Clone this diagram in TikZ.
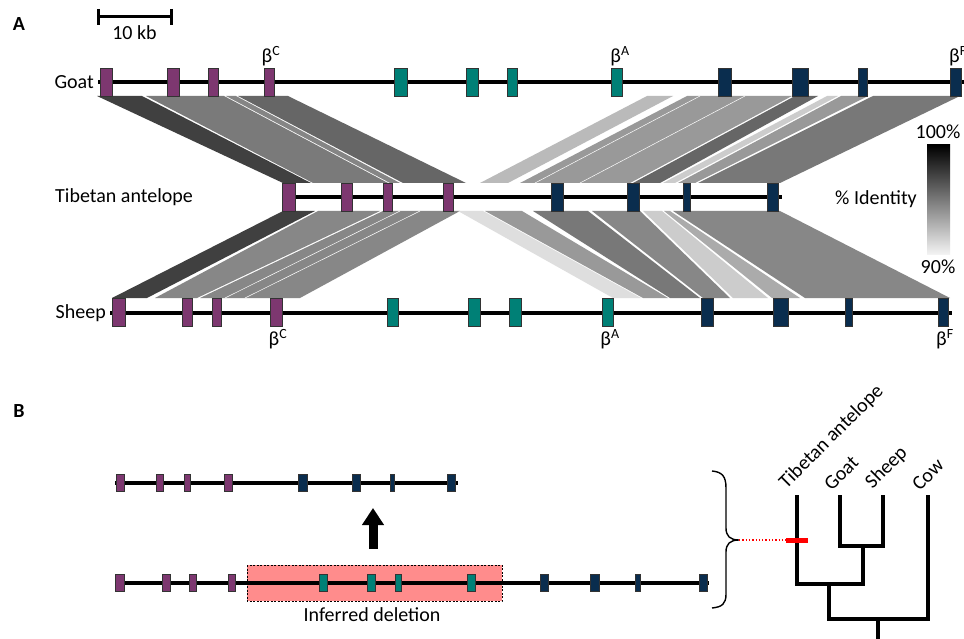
\documentclass[tikz,border=0pt]{standalone}
\usepackage{fontspec}
\setmainfont{Carlito}
\usetikzlibrary{arrows.meta}
\definecolor{gpurple}{RGB}{125,55,112}
\definecolor{gteal}{RGB}{0,128,118}
\definecolor{gnavy}{RGB}{10,45,78}
\definecolor{delred}{RGB}{255,140,140}
\tikzset{
  chrom/.style={line width=3.5pt},
  genebox/.style={draw=black!80, line width=0.6pt},
  lbl/.style={font=\fontsize{20}{24}\selectfont, inner sep=0pt},
  panel/.style={font=\fontsize{20}{24}\selectfont\bfseries, inner sep=0pt},
  treeline/.style={line width=3.5pt, line cap=rect, line join=miter},
}
\newcommand\gn[5]{\filldraw[genebox, fill=#5] ({#1-#3/2},{#2-#4/2}) rectangle ({#1+#3/2},{#2+#4/2});}
\newcommand\bnd[7]{\fill[black!#7] (#3,#1) -- (#4,#1) -- (#6,#2) -- (#5,#2) -- cycle;}
\begin{document}
\begin{tikzpicture}[x=1pt,y=-1pt]
\useasboundingbox (0,0) rectangle (964,639);
\clip (0,0) rectangle (964,639);
\fill[white] (0,0) rectangle (964,639);

% panel labels
\node[panel] (pA) at (19,24) {A};
\node[panel] (pB) at (19,411) {B};

% scale bar
\coordinate (sb1) at (98,17);
\coordinate (sb2) at (171,17);
\draw[line width=3pt] (sb1) -- (sb2);
\draw[line width=3pt] (98,9) -- (98,25);
\draw[line width=3pt] (171,9) -- (171,25);
\node[lbl] (sbl) at (134.5,33) {10 kb};

% ---------- bands goat -> antelope ----------
\bnd{96}{183}{97}{142}{283}{311}{75}
\bnd{96}{183}{146}{224}{313}{388}{52}
\bnd{96}{183}{226}{236}{390}{400}{48}
\bnd{96}{183}{238}{288}{403}{466}{60}
\bnd{96}{183}{647}{673}{480}{508}{27}
\bnd{96}{183}{687}{792}{520}{630}{40}
\bnd{96}{183}{795}{818}{633}{660}{60}
\bnd{96}{183}{827}{838}{663}{675}{20}
\bnd{96}{183}{841}{868}{678}{695}{40}
\bnd{96}{183}{873}{960}{698}{780}{53}
\draw[white, line width=0.5pt] (700,96) -- (535,183);
\draw[white, line width=0.5pt] (745,96) -- (580,183);
% ---------- bands antelope -> sheep ----------
\bnd{211}{298}{283}{315}{112}{147}{75}
\bnd{211}{298}{318}{380}{155}{197}{47}
\bnd{211}{298}{383}{460}{200}{300}{47}
\bnd{211}{298}{458}{483}{613}{641}{13}
\bnd{211}{298}{485}{522}{643}{668}{40}
\bnd{211}{298}{533}{588}{670}{700}{53}
\bnd{211}{298}{592}{640}{703}{730}{47}
\bnd{211}{298}{643}{662}{733}{768}{20}
\bnd{211}{298}{664}{670}{772}{800}{33}
\bnd{211}{298}{673}{780}{805}{950}{47}
\draw[white, line width=0.5pt] (400,211) -- (225,298);
\draw[white, line width=0.5pt] (420,211) -- (245,298);

% ---------- chromosomes ----------
\coordinate (g0) at (98,82);  \coordinate (g1) at (964,82);
\coordinate (t0) at (282,197); \coordinate (t1) at (782,197);
\coordinate (s0) at (110,313); \coordinate (s1) at (952,313);
\draw[chrom] (g0) -- (g1);
\draw[chrom] (t0) -- (t1);
\draw[chrom] (s0) -- (s1);

\foreach \x/\w in {106/12,173/12,213/10,269/10} \gn{\x}{82}{\w}{28}{gpurple};
\foreach \x/\w in {401/13,472/12,512/10,617/11} \gn{\x}{82}{\w}{28}{gteal};
\foreach \x/\w in {725/13,800/16,863/9,956/11} \gn{\x}{82}{\w}{28}{gnavy};

\foreach \x/\w in {289/13,347/11,388/9,448/10} \gn{\x}{197}{\w}{28}{gpurple};
\foreach \x/\w in {557/12,633/12,687/7,773/11} \gn{\x}{197}{\w}{28}{gnavy};

\foreach \x/\w in {119/13,187/10,217/9,276/12} \gn{\x}{312}{\w}{28}{gpurple};
\foreach \x/\w in {393/11,474/12,515/12,608/11} \gn{\x}{312}{\w}{28}{gteal};
\foreach \x/\w in {707/12,781/15,849/7,943/10} \gn{\x}{312}{\w}{28}{gnavy};

% labels
\node[lbl, anchor=east] (lg) at (94,82) {Goat};
\node[lbl, anchor=west] (lt) at (55,197) {Tibetan antelope};
\node[lbl, anchor=east] (ls) at (106,313) {Sheep};
\node[lbl] (bc1) at (271,56) {β\textsuperscript{C}};
\node[lbl] (ba1) at (620,56) {β\textsuperscript{A}};
\node[lbl] (bf1) at (958,56) {β\textsuperscript{F}};
\node[lbl] (bc2) at (278,339) {β\textsuperscript{C}};
\node[lbl] (ba2) at (610,339) {β\textsuperscript{A}};
\node[lbl] (bf2) at (945,339) {β\textsuperscript{F}};

% legend
\shade[top color=black, bottom color=black!4] (927,145) rectangle (950,255);
\node[lbl] (l100) at (938,132) {100\%};
\node[lbl] (l90) at (938,267) {90\%};
\node[lbl] (lid) at (876,199) {\% Identity};

% ---------- panel B ----------
\fill[delred] (247,565) rectangle (502,601);
\draw[dashed, dash pattern=on 2pt off 1.5pt, line width=0.9pt] (247,565) rectangle (502,601);
\node[lbl] (ldel) at (372,615) {Inferred deletion};

\coordinate (u0) at (115,483); \coordinate (u1) at (458,483);
\coordinate (v0) at (115,583); \coordinate (v1) at (709,583);
\draw[chrom] (u0) -- (u1);
\draw[chrom] (v0) -- (v1);
\foreach \x/\w in {120/8,160/7,187/6,228/8} \gn{\x}{483}{\w}{17}{gpurple};
\foreach \x/\w in {303/9,356/8,392/4,451/8} \gn{\x}{483}{\w}{17}{gnavy};
\foreach \x/\w in {120/9,166/8,193/7,232/7} \gn{\x}{583}{\w}{17}{gpurple};
\foreach \x/\w in {323/8,371/8,398/6,471/8} \gn{\x}{583}{\w}{17}{gteal};
\foreach \x/\w in {544/8,595/9,638/5,703/8} \gn{\x}{583}{\w}{17}{gnavy};

\coordinate (ar0) at (373,549);
\coordinate (ar1) at (373,508);
\draw[line width=9pt, -{Triangle[length=17pt,width=21pt]}] (ar0) -- (ar1);

% brace
\draw[line width=1.4pt] (712,471) .. controls (722,472) and (726,476) .. (726,488) -- (726,528) .. controls (726,536) and (730,540) .. (739,540) .. controls (730,540) and (726,544) .. (726,552) -- (726,594) .. controls (726,604) and (722,607) .. (712,608);
\coordinate (brt) at (739,540);
\coordinate (redl) at (786,540);
\draw[red, dotted, line width=1.3pt] (brt) -- (redl);

% tree
\coordinate (lt1) at (797,497);
\coordinate (lg1) at (840,497);
\coordinate (ls1) at (883,497);
\coordinate (lc1) at (928,497);
\draw[treeline] (lg1) -- (840,546) -- (883,546) -- (ls1);
\draw[treeline] (863,546) -- (863,584);
\draw[treeline] (lt1) -- (797,584) -- (863,584);
\draw[treeline] (829,584) -- (829,619) -- (928,619) -- (lc1);
\draw[treeline, line cap=butt] (878,619) -- (878,641);
\draw[red, line width=5pt] (redl) -- (808,540);

\node[lbl, anchor=south west, rotate=45] (nt) at (789,492) {Tibetan antelope};
\node[lbl, anchor=south west, rotate=45] (ng) at (832,492) {Goat};
\node[lbl, anchor=south west, rotate=45] (ns) at (875,492) {Sheep};
\node[lbl, anchor=south west, rotate=45] (nc) at (920,492) {Cow};
\end{tikzpicture}
\end{document}
